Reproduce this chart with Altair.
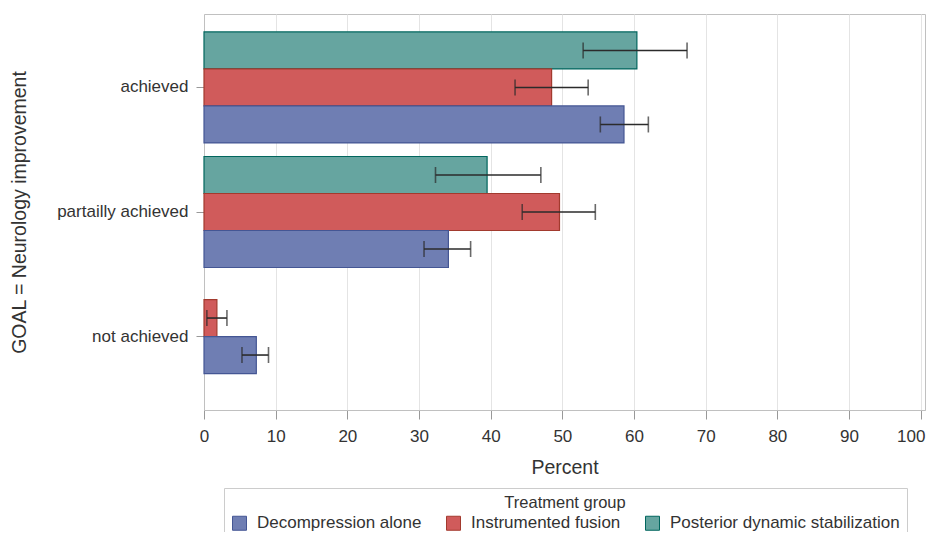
import altair as alt
import pandas as pd

goals = ["achieved", "partailly achieved", "not achieved"]
groups = ["Decompression alone", "Instrumented fusion", "Posterior dynamic stabilization"]

pct_decomp = [58.6, 34.1, 7.3]
lo_decomp = [55.3, 30.7, 5.3]
hi_decomp = [62.0, 37.2, 9.0]

pct_fusion = [48.5, 49.6, 1.8]
lo_fusion = [43.4, 44.4, 0.4]
hi_fusion = [53.6, 54.6, 3.2]

pct_pds = [60.4, 39.5, None]
lo_pds = [52.9, 32.3, None]
hi_pds = [67.4, 47.0, None]

fill_colors = ["#6F7EB3", "#D05B5B", "#66A5A0"]
line_colors = ["#445694", "#A23A2E", "#01665E"]

series = {
    groups[0]: (pct_decomp, lo_decomp, hi_decomp),
    groups[1]: (pct_fusion, lo_fusion, hi_fusion),
    groups[2]: (pct_pds, lo_pds, hi_pds),
}

# bars are drawn top-to-bottom in reverse legend order, clustered around the category
rows = []
for gi, goal in enumerate(goals):
    present = [g for g in reversed(groups) if series[g][0][gi] is not None]
    n = len(present)
    for i, g in enumerate(present):
        p, lo, hi = series[g]
        rows.append({"goal": goal, "group": g, "pct": p[gi], "lo": lo[gi], "hi": hi[gi],
                     "slot": i - (n - 1) / 2})
df = pd.DataFrame(rows)

FONT = "Liberation Sans"
BAR_H = 37
PLOT_W = 721
PLOT_H = 396
PAD_OUTER = 0.09
HALF_BAND = PLOT_H / (len(goals) + 2 * PAD_OUTER) / 2

y_enc = alt.Y("goal:N", sort=goals,
              scale=alt.Scale(paddingInner=0, paddingOuter=PAD_OUTER),
              axis=alt.Axis(title="GOAL = Neurology improvement", tickSize=8, labelPadding=8,
                            labelFontSize=17, titleFontSize=19.5, titleFontWeight="normal",
                            titlePadding=27, grid=False, domainColor="#c0c0c0",
                            tickColor="#999999", labelColor="#333333", titleColor="#333333"))
yoff = alt.YOffset("slot:Q", scale=alt.Scale(domain=[-1, 1],
                                             range=[HALF_BAND - BAR_H, HALF_BAND + BAR_H]))

x_axis = alt.Axis(title="Percent", values=list(range(0, 101, 10)), tickSize=9, labelPadding=9,
                  labelFontSize=17, titleFontSize=19.5, titleFontWeight="normal", titlePadding=14,
                  labelFlush=False, grid=True, gridColor="#e4e4e4", domainColor="#c0c0c0",
                  tickColor="#999999", labelColor="#333333", titleColor="#333333",
                  labelOffset=alt.condition("datum.value == 100", alt.value(-10), alt.value(0)))
x_scale = alt.Scale(domain=[0, 100.6], nice=False, zero=True)

base = alt.Chart(df)

bars = base.mark_bar(height=BAR_H, strokeWidth=1.2).encode(
    x=alt.X("pct:Q", scale=x_scale, axis=x_axis),
    y=y_enc,
    yOffset=yoff,
    color=alt.Color("group:N", scale=alt.Scale(domain=groups, range=fill_colors),
                    legend=alt.Legend(title="Treatment group")),
    stroke=alt.Stroke("group:N", scale=alt.Scale(domain=groups, range=line_colors), legend=None),
)

err = base.mark_rule(color="#2b2b2b", strokeWidth=1.6).encode(
    x=alt.X("lo:Q", scale=x_scale),
    x2="hi:Q",
    y=alt.Y("goal:N", sort=goals),
    yOffset=yoff,
)
cap_lo = base.mark_tick(color="#2b2b2b", size=16, thickness=1.6, orient="vertical").encode(
    x=alt.X("lo:Q", scale=x_scale),
    y=alt.Y("goal:N", sort=goals),
    yOffset=yoff,
)
cap_hi = base.mark_tick(color="#2b2b2b", size=16, thickness=1.6, orient="vertical").encode(
    x=alt.X("hi:Q", scale=x_scale),
    y=alt.Y("goal:N", sort=goals),
    yOffset=yoff,
)

chart = alt.layer(bars, err, cap_lo, cap_hi).properties(
    width=PLOT_W, height=PLOT_H,
    autosize=alt.AutoSizeParams(type="none"),
    padding={"left": 196, "top": 6, "right": 1, "bottom": 122},
).configure(font=FONT).configure_view(
    stroke="#c0c0c0", strokeWidth=1
).configure_legend(
    orient="none", legendX=20, legendY=474, direction="horizontal",
    titleAnchor="middle", titleFontSize=16.5, titleFontWeight="normal", titleColor="#333333",
    titlePadding=3, labelFontSize=17, labelColor="#333333", labelLimit=400, symbolType="square",
    symbolSize=196, symbolStrokeWidth=1, columnPadding=22, labelOffset=9,
    strokeColor="#cccccc", padding=7, fillColor="white",
)

chart.save("out.html", embed_options={"renderer": "svg", "actions": False})
